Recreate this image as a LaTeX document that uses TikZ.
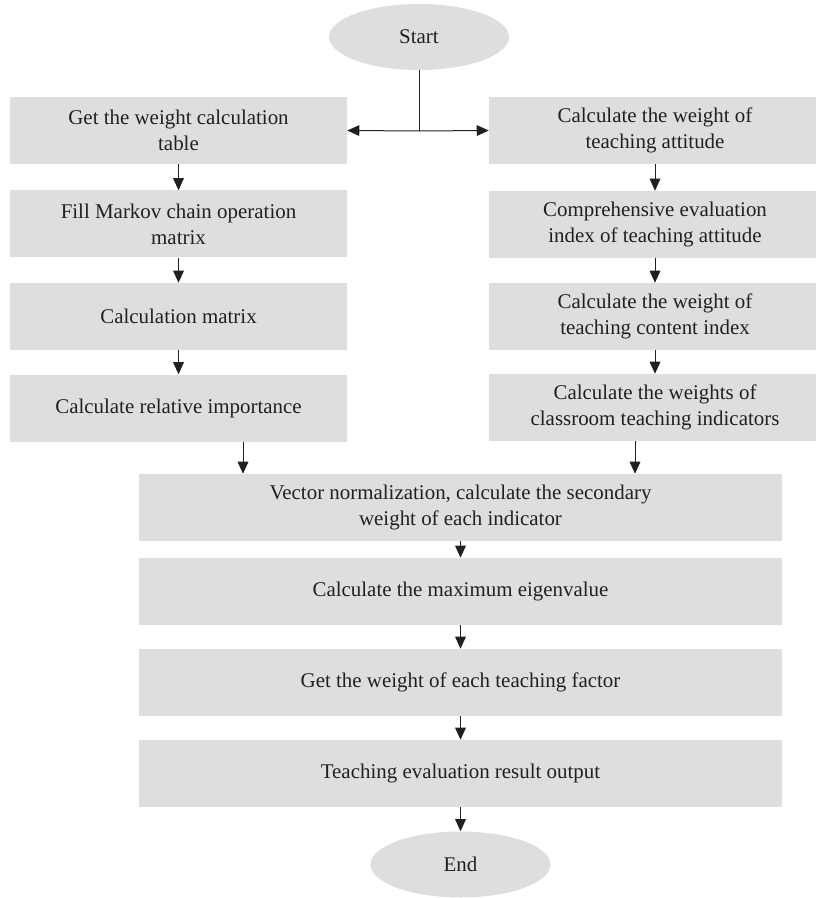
\documentclass[tikz,border=0pt]{standalone}
\usepackage{fontspec}
\setmainfont{Liberation Serif}
\usetikzlibrary{arrows.meta,shapes.geometric}
\definecolor{boxgray}{RGB}{221,222,224}
\definecolor{inkgray}{RGB}{35,31,32}
\begin{document}
\begin{tikzpicture}[x=0.75pt,y=-0.75pt,
  every node/.style={inner sep=0pt,text=inkgray,align=center,font=\fontsize{15.7}{19.5}\selectfont},
  box/.style={rectangle,fill=boxgray,minimum height=50.25pt},
  lbox/.style={box,minimum width=252.75pt},
  rbox/.style={box,minimum width=249pt},
  wbox/.style={box,minimum width=482.25pt},
  oval/.style={ellipse,fill=boxgray,minimum width=135pt,minimum height=49.5pt},
  arr/.style={draw=inkgray,line width=0.75pt,-{Triangle[length=9pt,width=8pt]}}]
\useasboundingbox (0,0) rectangle (815,898);
\node[oval] (start) at (419,37) {Start};
\node[lbox] (l1) at (178.5,130.5) {Get the weight calculation\\table};
\node[lbox] (l2) at (178.5,224) {Fill Markov chain operation\\matrix};
\node[lbox] (l3) at (178.5,316.5) {Calculation matrix};
\node[lbox] (l4) at (178.5,408) {Calculate relative importance};
\node[rbox] (r1) at (655,130.5) {Calculate the weight of\\teaching attitude};
\node[rbox] (r2) at (655,224.5) {Comprehensive evaluation\\index of teaching attitude};
\node[rbox] (r3) at (655,316.5) {Calculate the weight of\\teaching content index};
\node[rbox] (r4) at (655,407.5) {Calculate the weights of\\classroom teaching indicators};
\node[wbox] (b1) at (460.5,507.5) {Vector normalization, calculate the secondary\\weight of each indicator};
\node[wbox] (b2) at (460.5,591.5) {Calculate the maximum eigenvalue};
\node[wbox] (b3) at (460.5,682.5) {Get the weight of each teaching factor};
\node[wbox] (b4) at (460.5,773.5) {Teaching evaluation result output};
\node[oval] (end) at (460.5,864.5) {End};
\coordinate (fork) at (419,131);
\draw[draw=inkgray,line width=0.75pt] (start.south) -- (fork);
\draw[arr] (fork) -- (l1.east);
\draw[arr] (fork) -- (r1.west);
\draw[arr] (l1) -- (l2);
\draw[arr] (l2) -- (l3);
\draw[arr] (l3) -- (l4);
\draw[arr] (r1) -- (r2);
\draw[arr] (r2) -- (r3);
\draw[arr] (r3) -- (r4);
\draw[arr] (243,0 |- l4.south) -- (243,0 |- b1.north);
\draw[arr] (635,0 |- r4.south) -- (635,0 |- b1.north);
\draw[arr] (b1) -- (b2);
\draw[arr] (b2) -- (b3);
\draw[arr] (b3) -- (b4);
\draw[arr] (b4) -- (end);
\end{tikzpicture}
\end{document}
